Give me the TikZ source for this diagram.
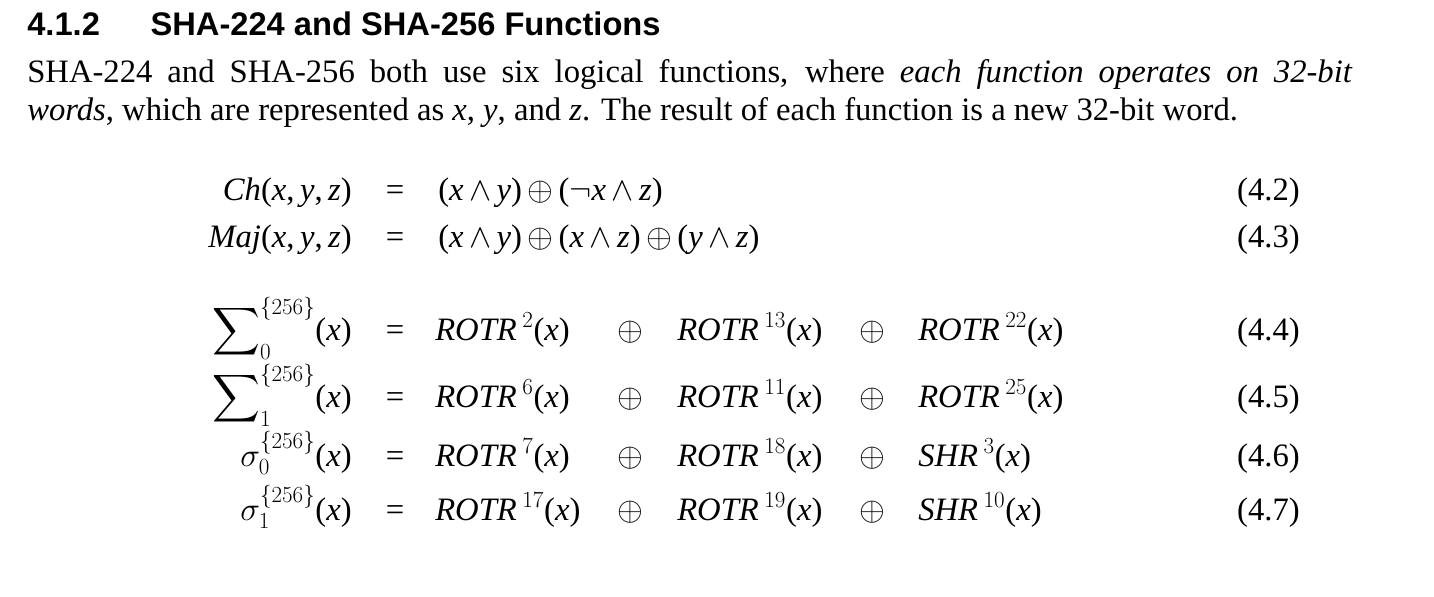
\documentclass[tikz,border=0pt]{standalone}
\usepackage{amsmath}
\usepackage{fontspec}
\setmainfont{Liberation Serif}
\setsansfont{Liberation Sans}
\begin{document}
\begin{tikzpicture}[x=0.75pt,y=-0.75pt,
  txt/.style={inner sep=0pt,font=\fontsize{24.5}{29}\selectfont},
  lhs/.style={txt,anchor=base east},
  cell/.style={txt,anchor=base west},
  eqno/.style={txt,anchor=base east}]
\useasboundingbox (0,0) rectangle (1434,596);
\node[anchor=base west,inner sep=0pt,font=\sffamily\bfseries\fontsize{24.5}{28}\selectfont] (h) at (27,35) {4.1.2\hspace{38pt}SHA-224 and SHA-256 Functions};
\node[txt,anchor=base west] (p1) at (27,82)
 {\makebox[994pt][s]{SHA-224 and SHA-256 both use six logical functions, where \textit{each function operates on 32-bit}}};
\node[txt,anchor=base west] (p2) at (27,120)
 {\textit{words}, which are represented as \textit{x}, \textit{y}, and \textit{z}. The result of each function is a new 32-bit word.};
\newcommand{\X}{(\textit{x})}
\foreach \yy/\l/\n in {200/{\textit{Ch}(\textit{x},\,\textit{y},\,\textit{z})}/4.2, 247/{\textit{Maj}(\textit{x},\,\textit{y},\,\textit{z})}/4.3}{
  \node[lhs] at (352,\yy) {\l};
  \node[txt,anchor=base] at (395,\yy) {=};
  \node[eqno] at (1300,\yy) {(\n)};
}
\node[cell] (r1) at (438,200) {(\textit{x}\,$\wedge$\,\textit{y})\,$\oplus$\,($\neg$\textit{x}\,$\wedge$\,\textit{z})};
\node[cell] (r2) at (438,247) {(\textit{x}\,$\wedge$\,\textit{y})\,$\oplus$\,(\textit{x}\,$\wedge$\,\textit{z})\,$\oplus$\,(\textit{y}\,$\wedge$\,\textit{z})};
\node[lhs] (s0) at (352,340) {$\displaystyle\sum\nolimits_{0}^{\{256\}}$\X};
\node[lhs] (s1) at (352,407) {$\displaystyle\sum\nolimits_{1}^{\{256\}}$\X};
\node[lhs] (g0) at (352,466) {$\sigma_{0}^{\{256\}}$\X};
\node[lhs] (g1) at (352,520) {$\sigma_{1}^{\{256\}}$\X};
\foreach \yy/\a/\b/\c/\n in {
 340/{\textit{ROTR}\,$^{2}$\X}/{\textit{ROTR}\,$^{13}$\X}/{\textit{ROTR}\,$^{22}$\X}/4.4,
 407/{\textit{ROTR}\,$^{6}$\X}/{\textit{ROTR}\,$^{11}$\X}/{\textit{ROTR}\,$^{25}$\X}/4.5,
 466/{\textit{ROTR}\,$^{7}$\X}/{\textit{ROTR}\,$^{18}$\X}/{\textit{SHR}\,$^{3}$\X}/4.6,
 520/{\textit{ROTR}\,$^{17}$\X}/{\textit{ROTR}\,$^{19}$\X}/{\textit{SHR}\,$^{10}$\X}/4.7}{
  \node[txt,anchor=base] at (395,\yy) {=};
  \node[cell] at (435,\yy) {\a};
  \node[txt,anchor=base] at (630,\yy) {$\oplus$};
  \node[cell] at (677,\yy) {\b};
  \node[txt,anchor=base] at (872,\yy) {$\oplus$};
  \node[cell] at (918,\yy) {\c};
  \node[eqno] at (1300,\yy) {(\n)};
}
\end{tikzpicture}
\end{document}
